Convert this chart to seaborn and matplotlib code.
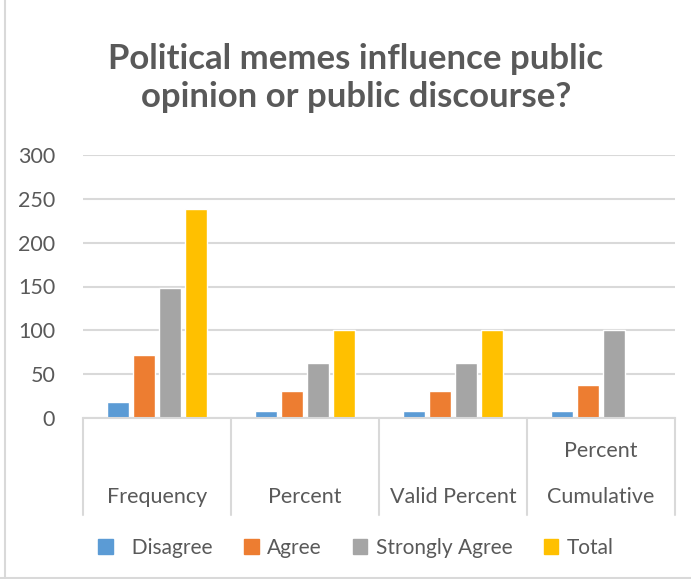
import numpy as np
import pandas as pd
import matplotlib
matplotlib.use('Agg')
import matplotlib.pyplot as plt
import matplotlib.transforms as mtransforms
from matplotlib.lines import Line2D
import seaborn as sns

# data
categories = ['Frequency', 'Percent', 'Valid Percent', 'Cumulative Percent']
cat_labels = ['Frequency', 'Percent', 'Valid Percent', 'Cumulative']
series = ['Disagree', 'Agree', 'Strongly Agree', 'Total']
disagree = [18, 7.6, 7.6, 7.6]
agree = [72, 30.3, 30.3, 37.9]
strongly_agree = [148, 62.2, 62.2, 100]
total = [238, 100, 100, np.nan]
yticks = [0, 50, 100, 150, 200, 250, 300]

colors = ['#5B9BD5', '#ED7D31', '#A5A5A5', '#FFC000']
text_col = '#595959'
grid_col = '#D9D9D9'

df = pd.DataFrame({
    'category': categories * 4,
    'response': [s for s in series for _ in categories],
    'value': disagree + agree + strongly_agree + total,
})

sns.set_theme(style='white')
plt.rcParams['font.family'] = ['Lato', 'DejaVu Sans']

fig = plt.figure(figsize=(6.91, 5.79), dpi=100)
ax = fig.add_axes([83 / 691, 1 - 418 / 579, (675 - 83) / 691, (418 - 155) / 579])

sns.barplot(data=df, x='category', y='value', hue='response', order=categories,
            hue_order=series, palette=colors, width=0.7, gap=0.17, ax=ax,
            legend=False, saturation=1)

ax.set_ylim(0, 300)
ax.set_xlim(-0.5, 3.5)
ax.set_yticks(yticks)
ax.set_yticklabels([str(t) for t in yticks], fontsize=15.5, color=text_col)
ax.tick_params(axis='y', length=0, pad=20)
ax.set_xticks([])
ax.set_xlabel('')
ax.set_ylabel('')
ax.yaxis.grid(True, color=grid_col, linewidth=1.5)
ax.set_axisbelow(True)
for s in ['left', 'right', 'top']:
    ax.spines[s].set_visible(False)
ax.spines['bottom'].set_color(grid_col)
ax.spines['bottom'].set_linewidth(1.5)

# multi-level category axis boxes
trans = mtransforms.blended_transform_factory(ax.transData, ax.transAxes)
for i in range(len(categories) + 1):
    ax.add_line(Line2D([i - 0.5, i - 0.5], [0, -0.369], transform=trans,
                       color=grid_col, linewidth=1.5, clip_on=False))
for i, lab in enumerate(cat_labels):
    ax.text(i, -0.30, lab, transform=trans, ha='center', va='center',
            fontsize=15.5, color=text_col)
ax.text(3, -0.125, 'Percent', transform=trans, ha='center', va='center',
        fontsize=15.5, color=text_col)

fig.text(0.515, 0.865, 'Political memes influence public\nopinion or public discourse?',
         ha='center', va='center', fontsize=25, fontweight='bold', color=text_col,
         linespacing=1.25)

handles = [plt.Rectangle((0, 0), 1, 1, color=c) for c in colors]
fig.legend(handles, ['  Disagree', 'Agree', 'Strongly Agree', 'Total'], loc='center',
           bbox_to_anchor=(0.515, 1 - 548 / 579), ncol=4, frameon=False,
           fontsize=15, labelcolor=text_col, handlelength=0.7, handleheight=0.7,
           handletextpad=0.4, columnspacing=1.5)

# chart border (left and bottom edges visible)
fig.add_artist(Line2D([5 / 691, 5 / 691], [0, 1], transform=fig.transFigure,
                      color=grid_col, linewidth=1.5))
fig.add_artist(Line2D([0, 1], [1.5 / 579, 1.5 / 579], transform=fig.transFigure,
                      color=grid_col, linewidth=1.5))

fig.savefig('out.png', dpi=100)
